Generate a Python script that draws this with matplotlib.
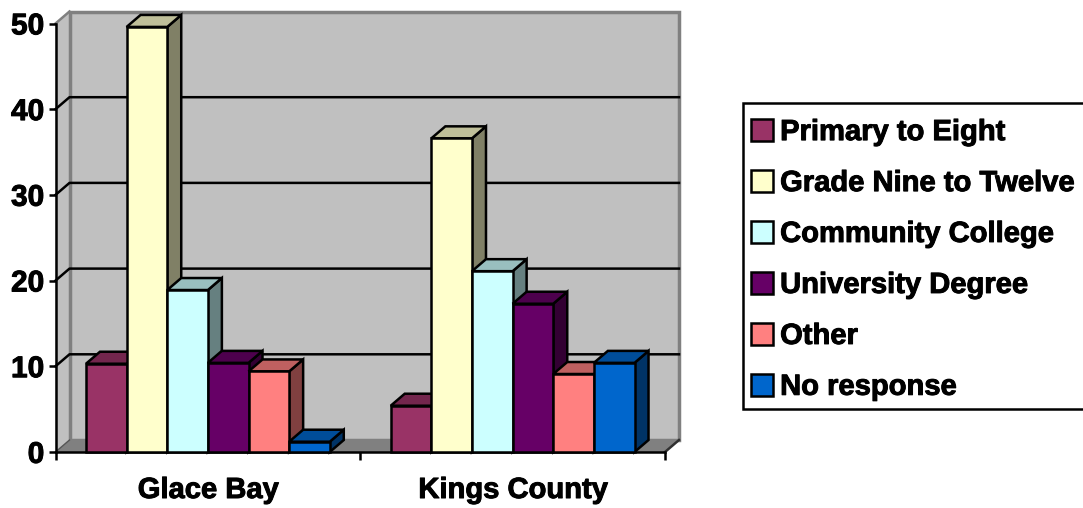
"""Education level by area, Excel style 3D columns"""
import numpy as np
import matplotlib
matplotlib.use('Agg')
import matplotlib.pyplot as plt
import matplotlib.patheffects as pe
from matplotlib.patches import Patch, Polygon, Rectangle

plt.rcParams['font.family'] = ['Liberation Sans', 'DejaVu Sans']
plt.rcParams['text.hinting'] = 'no_hinting'
plt.rcParams['text.hinting_factor'] = 1

categories = ['Glace Bay', 'Kings County']
series_names = ['Primary to Eight', 'Grade Nine to Twelve', 'Community College',
                'University Degree', 'Other', 'No response']
glace_bay = [10.3, 49.6, 18.9, 10.4, 9.4, 1.2]
kings_county = [5.4, 36.6, 21.1, 17.3, 9.1, 10.4]
colors = ['#993366', '#FFFFCC', '#CCFFFF', '#660066', '#FF8080', '#0066CC']
y_ticks = [0, 10, 20, 30, 40, 50]

W, H = 1083, 508
# front plane of the plot, in pixels
left, right, bottom, top = 55.5, 665.0, 452.0, 23.5
FS = 21.5
FS_TEXT = 21.0
LW = 1.8
HEAVY = [pe.withStroke(linewidth=0.7, foreground='black')]

fig = plt.figure(figsize=(W/100, H/100), dpi=100)
ax = fig.add_axes([left/W, 1 - bottom/H, (right-left)/W, (bottom-top)/H])
ax.set_xlim(0, 2)
ax.set_ylim(0, 50)
ax.patch.set_visible(False)

# depth of the fake 3D, in data units
dx = 14 / ((right-left)/2)
dy = 12 / ((bottom-top)/50)


def shade(color, f):
    rgb = np.array(matplotlib.colors.to_rgb(color))
    return tuple(rgb * f)


def poly(pts, fc, ec='none', lw=0, z=1):
    ax.add_patch(Polygon(pts, closed=True, facecolor=fc, edgecolor=ec, linewidth=lw,
                         joinstyle='miter', clip_on=False, zorder=z))


# walls and floor
poly([(0, 0), (dx, dy), (dx, 50+dy), (0, 50)], '#C0C0C0', z=1)
poly([(dx, dy), (2+dx, dy), (2+dx, 50+dy), (dx, 50+dy)], '#C0C0C0', '#808080', 2.5, z=1)
poly([(0, 0), (2, 0), (2+dx, dy), (dx, dy)], '#808080', z=1.1)
ax.plot([0, dx], [50, 50+dy], color='#808080', lw=LW, clip_on=False, zorder=1.2)
ax.plot([2, 2+dx], [0, dy], color='#303030', lw=LW, clip_on=False, zorder=1.2)

# gridlines on both walls
for v in y_ticks[1:-1]:
    ax.plot([0, dx, 2+dx], [v, v+dy, v+dy], color='black', lw=LW, clip_on=False, zorder=1.5)
ax.plot([0, dx], [0, dy], color='#555555', lw=1.0, clip_on=False, zorder=1.5)

# columns, left to right so each one covers the side of the one before
bar_w = 0.8 / len(series_names)
z = 3
for g, vals in enumerate([glace_bay, kings_county]):
    for k, v in enumerate(vals):
        x0 = g + 0.1 + k*bar_w
        x1 = x0 + bar_w
        c = colors[k]
        poly([(x1, 0), (x1+dx, dy), (x1+dx, v+dy), (x1, v)], shade(c, 0.5), 'black', LW, z)
        poly([(x0, v), (x1, v), (x1+dx, v+dy), (x0+dx, v+dy)], shade(c, 0.75), 'black', LW, z)
        ax.bar(x0, v, width=bar_w, align='edge', color=c, edgecolor='black', linewidth=LW,
               zorder=z+0.1, clip_on=False)
        z += 0.2

# axes
for s in ['top', 'right']:
    ax.spines[s].set_visible(False)
for s in ['left', 'bottom']:
    ax.spines[s].set_linewidth(LW)
ax.set_yticks(y_ticks)
ax.set_yticklabels([str(v) for v in y_ticks], fontsize=FS, fontweight='bold')
ax.tick_params(axis='y', length=5, width=LW, pad=3)
ax.set_xticks([0, 1, 2])
ax.set_xticklabels([])
ax.tick_params(axis='x', which='major', length=6, width=LW)
ax.set_xticks([0.5, 1.5], minor=True)
ax.set_xticklabels(categories, minor=True, fontsize=FS_TEXT, fontweight='bold')
ax.tick_params(axis='x', which='minor', length=0, pad=18)
for t in ax.get_yticklabels() + ax.get_xticklabels(minor=True):
    t.set_path_effects(HEAVY)

# legend frame is wider than its content and runs off the picture edge
fig.add_artist(Rectangle((743/W, 1 - 409/H), (1095-743)/W, 306/H, transform=fig.transFigure,
                         facecolor='white', edgecolor='black', linewidth=LW))
handles = [Patch(facecolor=c, edgecolor='black', linewidth=LW) for c in colors]
leg = fig.legend(handles, series_names, loc='upper left',
                 bbox_to_anchor=(743/W, 1 - 111/H), bbox_transform=fig.transFigure,
                 prop={'size': FS_TEXT, 'weight': 'bold'}, borderaxespad=0, borderpad=0.276,
                 handlelength=0.74, handleheight=0.77, handletextpad=0.256,
                 labelspacing=0.817, frameon=False)
for t in leg.get_texts():
    t.set_path_effects(HEAVY)

fig.savefig('out.png', dpi=100)
